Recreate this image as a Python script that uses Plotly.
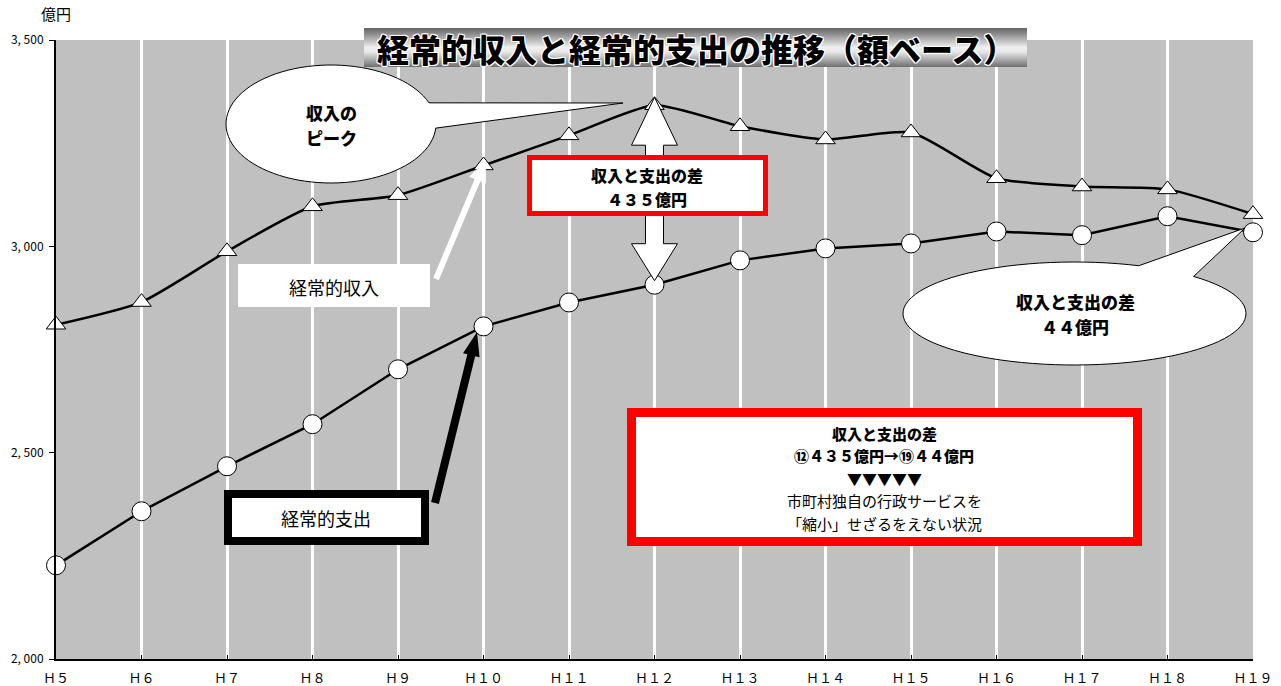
import math
import plotly.graph_objects as go

# ---- data (億円) ----
years = ["Ｈ５", "Ｈ６", "Ｈ７", "Ｈ８", "Ｈ９", "Ｈ１０", "Ｈ１１", "Ｈ１２",
         "Ｈ１３", "Ｈ１４", "Ｈ１５", "Ｈ１６", "Ｈ１７", "Ｈ１８", "Ｈ１９"]
income = [2810, 2865, 2988, 3097, 3124, 3196, 3269, 3342,
          3291, 3259, 3276, 3165, 3145, 3138, 3078]
expenditure = [2227, 2358, 2467, 2569, 2702, 2806, 2864, 2907,
               2966, 2995, 3007, 3036, 3027, 3073, 3034]
y_ticks = [2000, 2500, 3000, 3500]
y_ticktext = ["2, 000", "2, 500", "3, 000", "3, 500"]

W, H = 1281, 686
PL, PR, PT, PB = 56, 1253, 40, 659
YMIN, YMAX = 2000, 3500
xs = list(range(len(years)))

JP = "Noto Sans CJK JP"


def px(x):
    return (x - PL) / (PR - PL)


def py(y):
    return (PB - y) / (PB - PT)


def xpix(i):
    return PL + i / (len(years) - 1) * (PR - PL)


def ypix(v):
    return PB - (v - YMIN) / (YMAX - YMIN) * (PB - PT)


def poly_path(points):
    s = "M " + " L ".join(f"{px(x):.5f},{py(y):.5f}" for x, y in points)
    return s + " Z"


def bubble(cx, cy, rx, ry, a_start, a_end, tip, n=90):
    """Ellipse outline from a_start to a_end (degrees, y down) plus a pointer tip."""
    pts = []
    span = a_end - a_start
    for k in range(n + 1):
        a = math.radians(a_start + span * k / n)
        pts.append((cx + rx * math.cos(a), cy + ry * math.sin(a)))
    pts.append(tip)
    return poly_path(pts)


def arrow(tail, tip, shaft_w, head_w, head_len):
    tx, ty = tail
    hx, hy = tip
    L = math.hypot(hx - tx, hy - ty)
    ux, uy = (hx - tx) / L, (hy - ty) / L
    nx, ny = -uy, ux
    bx, by = hx - ux * head_len, hy - uy * head_len
    pts = [
        (tx + nx * shaft_w / 2, ty + ny * shaft_w / 2),
        (bx + nx * shaft_w / 2, by + ny * shaft_w / 2),
        (bx + nx * head_w / 2, by + ny * head_w / 2),
        (hx, hy),
        (bx - nx * head_w / 2, by - ny * head_w / 2),
        (bx - nx * shaft_w / 2, by - ny * shaft_w / 2),
        (tx - nx * shaft_w / 2, ty - ny * shaft_w / 2),
    ]
    return poly_path(pts)


fig = go.Figure()

fig.add_trace(go.Scatter(
    x=xs, y=income, mode="lines+markers", name="経常的収入",
    line=dict(color="black", width=2.5, shape="spline", smoothing=0.6),
    marker=dict(symbol="triangle-up", size=17, color="white",
                line=dict(color="black", width=1)),
    cliponaxis=False, showlegend=False,
))
fig.add_trace(go.Scatter(
    x=xs, y=expenditure, mode="lines+markers", name="経常的支出",
    line=dict(color="black", width=2.5),
    marker=dict(symbol="circle", size=19, color="white",
                line=dict(color="black", width=1)),
    cliponaxis=False, showlegend=False,
))

shapes = []
annotations = []


def rect(x0, y0, x1, y1, fill, line_color=None, line_w=0):
    shapes.append(dict(
        type="rect", xref="paper", yref="paper", layer="above",
        x0=px(x0), x1=px(x1), y0=py(y1), y1=py(y0),
        fillcolor=fill,
        line=dict(color=line_color or fill, width=line_w),
    ))


def text(x, y, s, size=18, weight=400, color="black", shadow=None, family=JP):
    f = dict(family=family, size=size, color=color, weight=weight)
    if shadow:
        f["shadow"] = shadow
    annotations.append(dict(
        x=px(x), y=py(y), xref="paper", yref="paper", text=s,
        showarrow=False, xanchor="center", yanchor="middle", font=f,
    ))


def lines(x, y_first, step, items, size):
    for k, (s, wt) in enumerate(items):
        text(x, y_first + step * k, s, size=size, weight=wt)


# ---- title box with vertical grey gradient ----
TX0, TX1, TY0, TY1 = 364, 1027, 28, 67
stops = [(0.0, 100), (0.15, 140), (0.5, 240), (0.62, 230), (1.0, 110)]
nrow = TY1 - TY0
for r in range(nrow):
    t = (r + 0.5) / nrow
    for (t0, c0), (t1, c1) in zip(stops[:-1], stops[1:]):
        if t0 <= t <= t1:
            g = int(round(c0 + (c1 - c0) * (t - t0) / (t1 - t0)))
            break
    rect(TX0, TY0 + r, TX1, TY0 + r + 1, f"rgb({g},{g},{g})")
outline = ", ".join(f"white {dx}px {dy}px 0px" for dx, dy in
                    [(1, 1), (-1, -1), (1, -1), (-1, 1), (1, 0), (-1, 0), (0, 1), (0, -1)])
text((TX0 + TX1) / 2, 48, "経常的収入と経常的支出の推移（額ベース）",
     size=32, weight=900, shadow=outline)

# ---- "収入のピーク" speech bubble ----
shapes.append(dict(type="path", xref="paper", yref="paper", layer="above",
                   path=bubble(331, 124, 105, 59, 4, 339, (623, 103)),
                   fillcolor="white", line=dict(color="black", width=1)))
lines(331, 112, 25, [("収入の", 900), ("ピーク", 900)], 17)

# ---- double arrow between the H12 values ----
i12 = years.index("Ｈ１２")
ax_ = xpix(i12)
top = ypix(income[i12]) - 8
bot = ypix(expenditure[i12]) - 4
hw, sw, hl = 23, 9, 48
shapes.append(dict(type="path", xref="paper", yref="paper", layer="above",
                   path=poly_path([
                       (ax_, top), (ax_ + hw, top + hl), (ax_ + sw, top + hl),
                       (ax_ + sw, bot - 37), (ax_ + hw, bot - 37), (ax_, bot),
                       (ax_ - hw, bot - 37), (ax_ - sw, bot - 37),
                       (ax_ - sw, top + hl), (ax_ - hw, top + hl)]),
                   fillcolor="white", line=dict(color="black", width=1)))

# ---- red box: 435億円 ----
rect(529.5, 157.5, 765.5, 213.5, "white", "#ff0000", 5)
lines(647, 175, 23.5, [("収入と支出の差", 900), ("４３５億円", 900)], 16)

# ---- 経常的収入 label and white arrow ----
rect(238, 264, 430, 307, "white")
text(334, 287, "経常的収入", size=18)
shapes.append(dict(type="path", xref="paper", yref="paper", layer="above",
                   path=arrow((436, 279), (486, 160), 6, 18, 22),
                   fillcolor="white", line=dict(color="white", width=0)))

# ---- 経常的支出 label and black arrow ----
rect(228, 494, 425, 541, "white", "black", 8)
text(326, 518, "経常的支出", size=18)
shapes.append(dict(type="path", xref="paper", yref="paper", layer="above",
                   path=arrow((435, 503), (477, 332), 8, 17, 24),
                   fillcolor="black", line=dict(color="black", width=0)))

# ---- "44億円" speech bubble ----
shapes.append(dict(type="path", xref="paper", yref="paper", layer="above",
                   path=bubble(1074.5, 313.5, 171.5, 51.5, -46, 292, (1245, 228)),
                   fillcolor="white", line=dict(color="black", width=1)))
lines(1075, 301, 25, [("収入と支出の差", 900), ("４４億円", 900)], 17)

# ---- summary red box ----
rect(631.5, 412.5, 1137.5, 541.5, "white", "#ff0000", 9)
lines(884, 433, 22.5, [
    ("収入と支出の差", 900),
    ("⑫４３５億円→⑲４４億円", 900),
    ("▼▼▼▼▼", 400),
    ("市町村独自の行政サービスを", 400),
    ("「縮小」せざるをえない状況", 400),
], 15)

# ---- unit label ----
text(56, 14, "億円", size=15)

fig.update_layout(
    width=W, height=H,
    margin=dict(l=PL, r=W - PR, t=PT, b=H - PB, pad=0, autoexpand=False),
    paper_bgcolor="white", plot_bgcolor="#c0c0c0",
    shapes=shapes, annotations=annotations,
    showlegend=False,
)
fig.update_xaxes(
    range=[0, len(years) - 1], tickvals=xs, ticktext=years,
    showgrid=True, gridcolor="white", gridwidth=3,
    showline=True, linecolor="black", linewidth=2,
    ticks="inside", ticklen=4, tickcolor="black",
    tickfont=dict(family=JP, size=13, color="black"),
    ticklabelstandoff=6, zeroline=False, fixedrange=True, automargin=False,
)
fig.update_yaxes(
    range=[YMIN, YMAX], tickvals=y_ticks, ticktext=y_ticktext,
    showgrid=False, zeroline=False,
    showline=True, linecolor="black", linewidth=2,
    ticks="outside", ticklen=5, tickcolor="black",
    tickfont=dict(family=JP, size=12, color="black"),
    ticklabelstandoff=3, fixedrange=True, automargin=False,
)

fig.write_html("out.html")
